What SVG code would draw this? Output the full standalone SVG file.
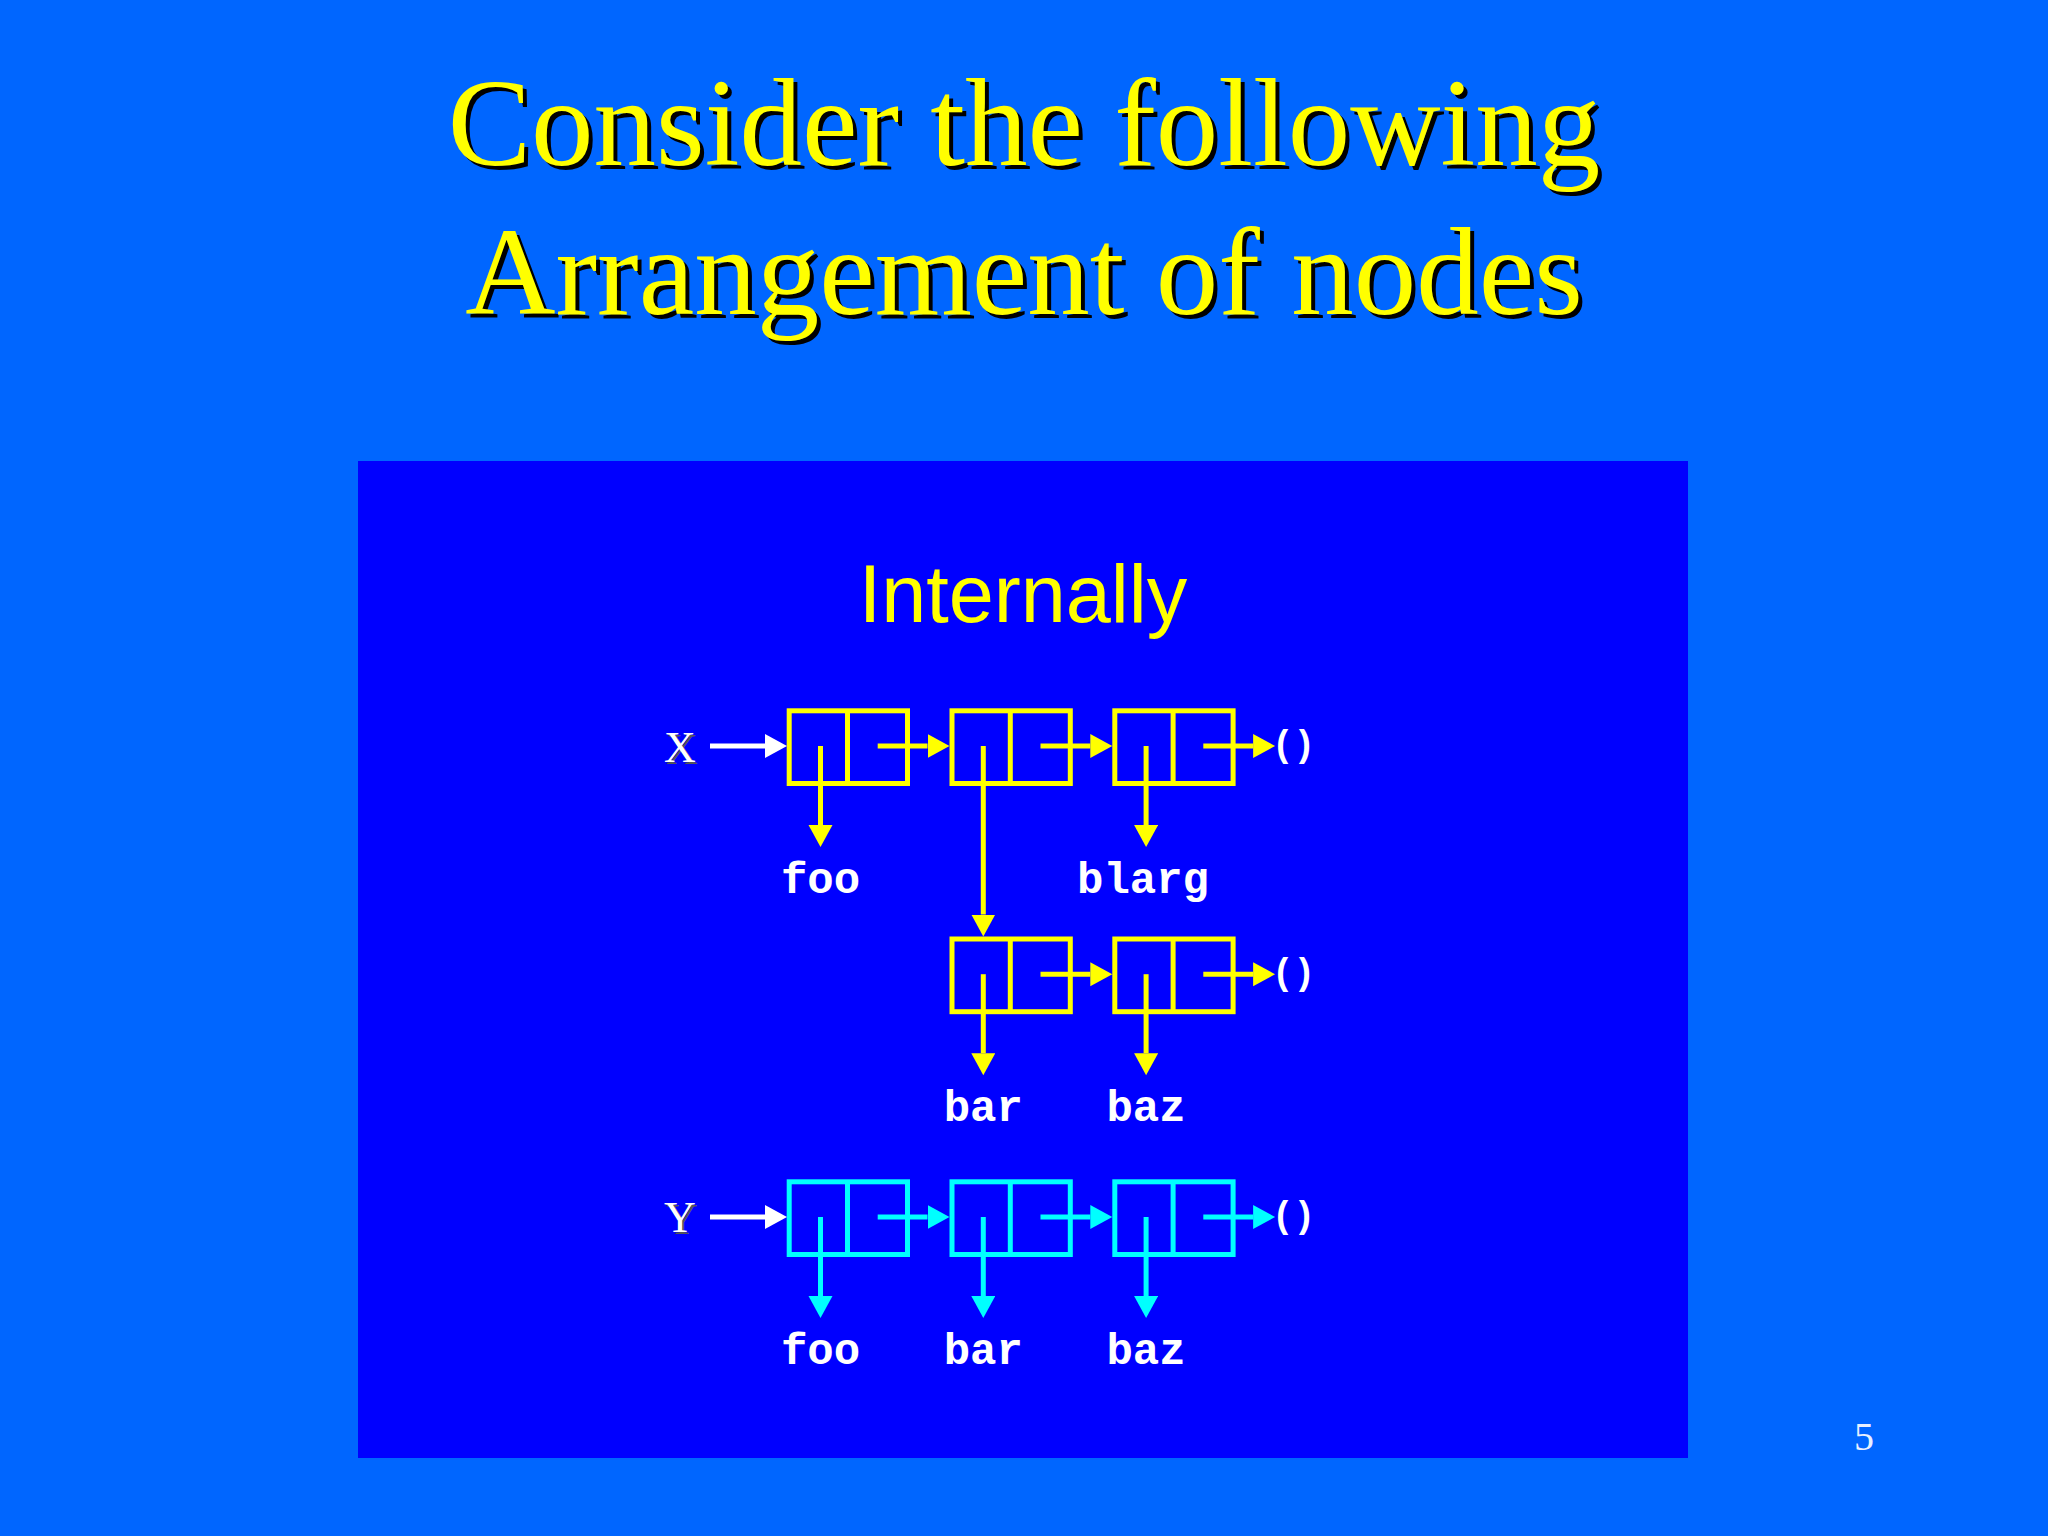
<svg xmlns="http://www.w3.org/2000/svg" width="2048" height="1536" viewBox="0 0 2048 1536">
<defs>
<style>
.title{font-family:"Liberation Serif","Times New Roman",serif;font-size:125px;text-anchor:middle}
.tfg{fill:#FFFF00}
.tsh{fill:#000000}
.sub{font-family:"Liberation Sans",Arial,sans-serif;font-size:81px;fill:#FFFF00;text-anchor:middle}
.var{font-family:"Liberation Serif","Times New Roman",serif;font-size:44px;text-anchor:middle}
.lbl{font-family:"Liberation Mono","Courier New",monospace;font-weight:bold;font-size:44px;fill:#FFFFFF;text-anchor:middle}
.nil{font-family:"Liberation Mono","Courier New",monospace;font-weight:bold;font-size:36px;fill:#FFFFFF;text-anchor:start}
.cy{fill:none;stroke:#FFFF00;stroke-width:5}
.cc{fill:none;stroke:#00FFFF;stroke-width:5}
.ly{stroke:#FFFF00;stroke-width:5;fill:none}
.lc{stroke:#00FFFF;stroke-width:5;fill:none}
.lw{stroke:#FFFFFF;stroke-width:5;fill:none}
</style>
<marker id="ay" markerUnits="userSpaceOnUse" markerWidth="24" markerHeight="26" refX="0" refY="12" orient="auto"><path d="M0,0 L22,12 L0,24 Z" fill="#FFFF00"/></marker>
<marker id="ac" markerUnits="userSpaceOnUse" markerWidth="24" markerHeight="26" refX="0" refY="12" orient="auto"><path d="M0,0 L22,12 L0,24 Z" fill="#00FFFF"/></marker>
<marker id="aw" markerUnits="userSpaceOnUse" markerWidth="24" markerHeight="26" refX="0" refY="12" orient="auto"><path d="M0,0 L22,12 L0,24 Z" fill="#FFFFFF"/></marker>
</defs>
<rect x="0" y="0" width="2048" height="1536" fill="#0066FF"/>
<g id="title">
<text class="title tsh" x="1028" y="169">Consider the following</text>
<text class="title tfg" x="1024" y="165">Consider the following</text>
<text class="title tsh" x="1028" y="318">Arrangement of nodes</text>
<text class="title tfg" x="1024" y="314">Arrangement of nodes</text>
</g>
<rect id="panel" x="358" y="461" width="1330" height="997" fill="#0000FF"/>
<text id="subtitle" class="sub" x="1023" y="622">Internally</text>
<g id="var-X">
<text class="var" x="682" y="763.5" fill="#555555">X</text>
<text class="var" x="680" y="761.7" fill="#FFFFFF">X</text>
</g>
<g id="var-Y">
<text class="var" x="682" y="1233.5" fill="#555555">Y</text>
<text class="var" x="680" y="1231.7" fill="#FFFFFF">Y</text>
</g>
<!-- row 1 (yellow) -->
<g id="x1"><rect class="cy" x="789.2" y="710.8" width="118.3" height="72.7"/><line class="ly" x1="847.5" y1="710.8" x2="847.5" y2="783.5"/></g>
<g id="x2"><rect class="cy" x="952" y="710.8" width="118.3" height="72.7"/><line class="ly" x1="1010.3" y1="710.8" x2="1010.3" y2="783.5"/></g>
<g id="x3"><rect class="cy" x="1114.8" y="710.8" width="118.3" height="72.7"/><line class="ly" x1="1173.1" y1="710.8" x2="1173.1" y2="783.5"/></g>
<!-- row 2 (yellow) -->
<g id="s1"><rect class="cy" x="952" y="939" width="118.3" height="72.7"/><line class="ly" x1="1010.3" y1="939" x2="1010.3" y2="1011.7"/></g>
<g id="s2"><rect class="cy" x="1114.8" y="939" width="118.3" height="72.7"/><line class="ly" x1="1173.1" y1="939" x2="1173.1" y2="1011.7"/></g>
<!-- row 3 (cyan) -->
<g id="y1"><rect class="cc" x="789.2" y="1181.8" width="118.3" height="72.7"/><line class="lc" x1="847.5" y1="1181.8" x2="847.5" y2="1254.5"/></g>
<g id="y2"><rect class="cc" x="952" y="1181.8" width="118.3" height="72.7"/><line class="lc" x1="1010.3" y1="1181.8" x2="1010.3" y2="1254.5"/></g>
<g id="y3"><rect class="cc" x="1114.8" y="1181.8" width="118.3" height="72.7"/><line class="lc" x1="1173.1" y1="1181.8" x2="1173.1" y2="1254.5"/></g>
<!-- labels -->
<g id="labels">
<text class="lbl" x="820.5" y="893">foo</text>
<text class="lbl" x="1143" y="893">blarg</text>
<text class="lbl" x="983.3" y="1121">bar</text>
<text class="lbl" x="1146" y="1121">baz</text>
<text class="lbl" x="820.5" y="1364">foo</text>
<text class="lbl" x="983.3" y="1364">bar</text>
<text class="lbl" x="1146" y="1364">baz</text>
<text class="nil" x="1272" y="756">()</text>
<text class="nil" x="1272" y="984">()</text>
<text class="nil" x="1272" y="1227">()</text>
</g>
<g id="connectors">
<!-- row 1 -->
<line class="lw" x1="710" y1="746" x2="765" y2="746" marker-end="url(#aw)"/>
<line class="ly" x1="820.5" y1="746" x2="820.5" y2="825" marker-end="url(#ay)"/>
<line class="ly" x1="877.7" y1="746" x2="927.5" y2="746" marker-end="url(#ay)"/>
<line class="ly" x1="983.3" y1="746" x2="983.3" y2="914.5" marker-end="url(#ay)"/>
<line class="ly" x1="1040.5" y1="746" x2="1090.3" y2="746" marker-end="url(#ay)"/>
<line class="ly" x1="1146.1" y1="746" x2="1146.1" y2="825" marker-end="url(#ay)"/>
<line class="ly" x1="1203.3" y1="746" x2="1253.1" y2="746" marker-end="url(#ay)"/>
<!-- row 2 -->
<line class="ly" x1="983.3" y1="974.2" x2="983.3" y2="1053.2" marker-end="url(#ay)"/>
<line class="ly" x1="1040.5" y1="974.2" x2="1090.3" y2="974.2" marker-end="url(#ay)"/>
<line class="ly" x1="1146.1" y1="974.2" x2="1146.1" y2="1053.2" marker-end="url(#ay)"/>
<line class="ly" x1="1203.3" y1="974.2" x2="1253.1" y2="974.2" marker-end="url(#ay)"/>
<!-- row 3 -->
<line class="lw" x1="710" y1="1217" x2="765" y2="1217" marker-end="url(#aw)"/>
<line class="lc" x1="820.5" y1="1217" x2="820.5" y2="1296" marker-end="url(#ac)"/>
<line class="lc" x1="877.7" y1="1217" x2="927.5" y2="1217" marker-end="url(#ac)"/>
<line class="lc" x1="983.3" y1="1217" x2="983.3" y2="1296" marker-end="url(#ac)"/>
<line class="lc" x1="1040.5" y1="1217" x2="1090.3" y2="1217" marker-end="url(#ac)"/>
<line class="lc" x1="1146.1" y1="1217" x2="1146.1" y2="1296" marker-end="url(#ac)"/>
<line class="lc" x1="1203.3" y1="1217" x2="1253.1" y2="1217" marker-end="url(#ac)"/>
</g>
<text id="page-number" x="1864" y="1450" font-family="'Liberation Serif','Times New Roman',serif" font-size="40" fill="#E8F0FF" text-anchor="middle">5</text>
</svg>
